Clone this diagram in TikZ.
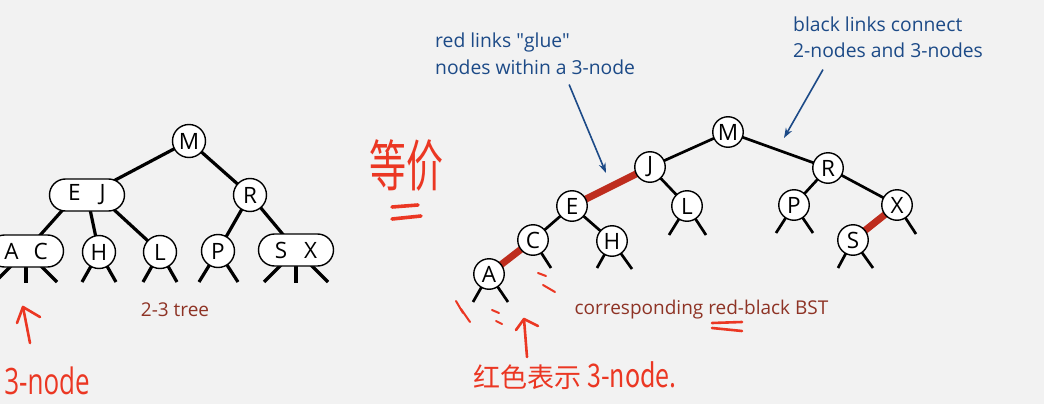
\documentclass[tikz,border=0pt]{standalone}
\usepackage{fontspec}
\setmainfont{Open Sans}
\newfontfamily\cjk{Noto Sans CJK SC}
\usetikzlibrary{arrows.meta,positioning,backgrounds}
\definecolor{paper}{HTML}{F2F2F2}
\definecolor{linkblue}{HTML}{1C4A87}
\definecolor{caption}{HTML}{8E3325}
\definecolor{redlink}{HTML}{BE2D1E}
\definecolor{pen}{HTML}{EB3723}

\begin{document}
\begin{tikzpicture}[x=1pt,y=-1pt,
  key/.style={circle,draw,fill=white,line width=1.4pt,minimum size=33pt,inner sep=0pt,font=\fontsize{22.5}{22}\selectfont},
  small/.style={key,minimum size=30.5pt},
  pill/.style={draw,fill=white,line width=1.4pt,rounded corners=16pt,minimum width=75pt,minimum height=32pt,inner sep=0pt,font=\fontsize{22.5}{22}\selectfont},
  link/.style={line width=3.2pt},
  thin/.style={line width=2.7pt},
  redlk/.style={redlink,line width=7pt},
  note/.style={linkblue,align=left,anchor=north west,inner sep=0pt,font=\fontsize{19.3}{26.5}\selectfont},
  treename/.style={caption,inner sep=0pt,font=\fontsize{19}{19}\selectfont},
  pointer/.style={linkblue,line width=1.6pt,-{Stealth[length=10pt,width=7pt]}},
  ink/.style={pen,line width=2.6pt,line cap=round,line join=round},
  scrawl/.style={pen,inner sep=0pt}]
\useasboundingbox (0,0) rectangle (1044,404);

\node[key] (m) at (189,141) {M};
\node[pill] (ej) at (87,195) {E\hspace{19pt}J};
\node[key] (r) at (250,195) {R};
\node[pill] (ac) at (26,251) {A\hspace{15pt}C};
\node[key] (h) at (99,252) {H};
\node[key] (l) at (160,252) {L};
\node[key] (p) at (218,251) {P};
\node[pill] (sx) at (296,250) {S\hspace{17pt}X};
\node[treename] (twothree) at (175,310) {2-3 tree};

\node[small] (bm) at (728,132) {M};
\node[small] (bj) at (650,167) {J};
\node[small] (br) at (828,168) {R};
\node[small] (be) at (572,206) {E};
\node[small] (bl) at (687,206) {L};
\node[small] (bp) at (794,205) {P};
\node[small] (bx) at (897,205) {X};
\node[small] (bc) at (533,240) {C};
\node[small] (bh) at (612,241) {H};
\node[small] (bs) at (853,240) {S};
\node[small] (ba) at (489,274) {A};
\node[treename] (rbbst) at (701.5,310) {corresponding red-black BST};

\node[note] (glue) at (435,32.8) {red links \textquotedbl glue\textquotedbl\\nodes within a 3-node};
\node[note] (black) at (793,16.3) {black links connect\\2-nodes and 3-nodes};
\coordinate (gluetip) at (606,173);
\coordinate (blacktip) at (784,138);
\draw[pointer] ([xshift=34pt,yshift=-10pt]glue.south) -- (gluetip);
\draw[pointer] ([xshift=30pt,yshift=-11.5pt]black.south west) -- (blacktip);

\node[scrawl,font=\cjk\fontsize{37}{37}\selectfont] (dengjia) at (406,165) {\scalebox{1}[1.5]{等价}};
\node[scrawl,font=\fontsize{26}{26}\selectfont] (threenode) at (47,381) {\scalebox{1}[1.4]{3-node}};
\node[scrawl,font=\fontsize{27}{27}\selectfont] (hongse) at (575,376) {\cjk 红色表示\ \fontsize{25}{25}\selectfont\scalebox{1}[1.3]{3-node.}};
\coordinate (pin) at (23,307);
\coordinate (pintail) at (30,343);
\coordinate (tip) at (524,319);
\coordinate (tiptail) at (527,357);
\draw[ink] (pintail) -- (pin);
\draw[ink] (17,323) -- (pin) -- (40,317);
\draw[ink] (tiptail) -- (tip);
\draw[ink] (516,330) -- (tip) -- (538,326);
\draw[ink,line width=3.6pt] (392,207) -- (418,205);
\draw[ink,line width=3.6pt] (392,219) -- (421,216);
\draw[ink] (712,323) -- (742,322);
\draw[ink] (712,328) -- (742,331);
\foreach \x/\y/\u/\v in {456/301/463/313,461/309/470/322,492/310/499/313,496/321/502/324,538/273/546/276,543/285/555/292}{\draw[ink,line width=2pt] (\x,\y) -- (\u,\v);}

\begin{scope}[on background layer]
\fill[paper] (0,0) rectangle (1044,404);
\foreach \a/\b in {m/ej,m/r,ej/h,r/p,r/sx}{\draw[link] (\a.center) -- (\b.center);}
\draw[link] ([xshift=-11pt]ej.center) -- (ac.center);
\draw[link] ([xshift=11pt]ej.center) -- (l.center);
\foreach \n/\dx/\dy in {ac/-31/31,ac/0/32,ac/31/31,h/-17/30,h/17/30,l/-17/30,l/17/30,p/-19/31,p/20/31,sx/-32/32,sx/0/33,sx/32/32}{\draw[link] (\n.center) -- ++(\dx,\dy);}
\foreach \a/\b in {bm/bj,bm/br,bj/bl,be/bc,be/bh,br/bp,br/bx}{\draw[thin] (\a.center) -- (\b.center);}
\foreach \a/\b in {bj/be,bc/ba,bx/bs}{\draw[redlk] (\a.center) -- (\b.center);}
\foreach \n/\dx/\dy in {ba/-16/28,ba/19/28,bc/18/28,bh/-15/27,bh/20/28,bl/-18/29,bl/19/29,bp/-18/28,bp/19/28,bx/19/29,bs/-15/28,bs/20/28}{\draw[thin] (\n.center) -- ++(\dx,\dy);}
\end{scope}
\end{tikzpicture}
\end{document}
